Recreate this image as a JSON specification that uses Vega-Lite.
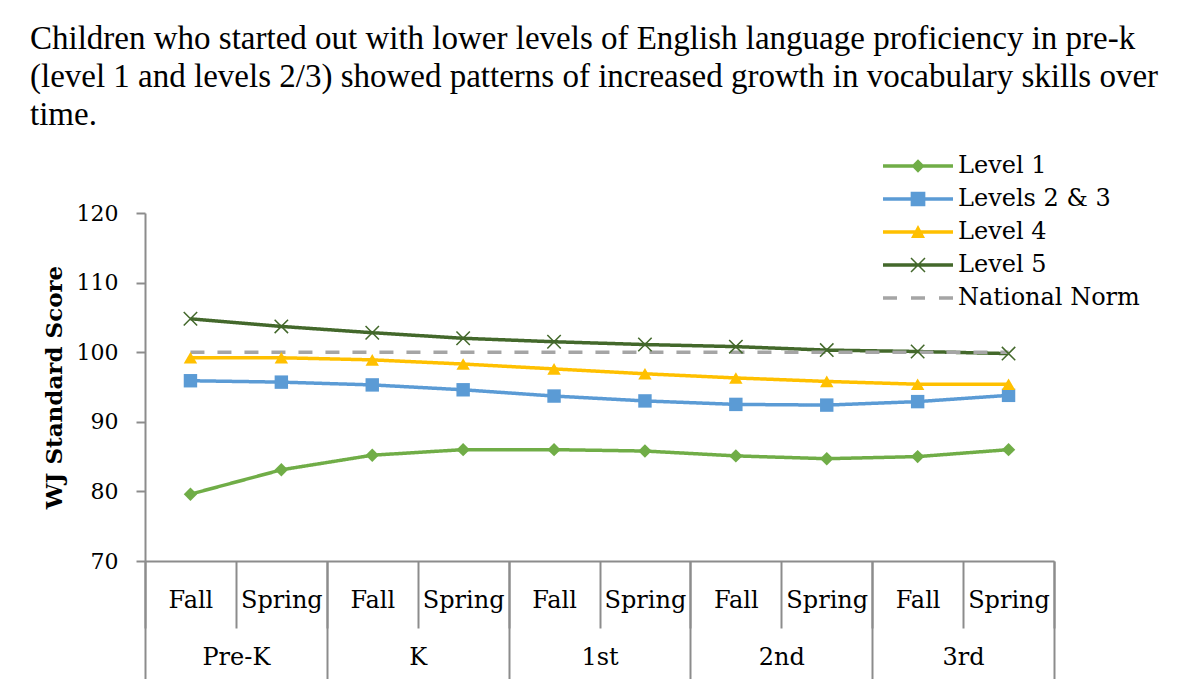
{
  "$schema": "https://vega.github.io/schema/vega-lite/v6.json",
  "width": 909,
  "height": 348,
  "autosize": {"type": "none"},
  "padding": {"left": 145, "top": 213, "right": 144, "bottom": 118},
  "background": "white",
  "title": {
    "text": [
      "Children who started out with lower levels of English language proficiency in pre-k",
      "(level 1 and levels 2/3) showed patterns of increased growth in vocabulary skills over",
      "time."
    ],
    "anchor": "start",
    "frame": "group",
    "dx": -115,
    "font": "Liberation Serif",
    "fontSize": 33,
    "fontWeight": "normal",
    "color": "black",
    "lineHeight": 38,
    "offset": 22
  },
  "config": {
    "view": {"stroke": null},
    "title": {"font": "Liberation Serif", "fontSize": 33, "fontWeight": "normal", "color": "black"},
    "axis": {"labelFont": "DejaVu Serif", "titleFont": "DejaVu Serif", "labelColor": "black", "titleColor": "black"},
    "legend": {"labelFont": "DejaVu Serif"}
  },
  "data": {
    "values": [
      {"series": "Level 1", "grade": "Pre-K", "season": "Fall", "period": "Pre-K|Fall", "score": 79.6},
      {"series": "Level 1", "grade": "Pre-K", "season": "Spring", "period": "Pre-K|Spring", "score": 83.1},
      {"series": "Level 1", "grade": "K", "season": "Fall", "period": "K|Fall", "score": 85.2},
      {"series": "Level 1", "grade": "K", "season": "Spring", "period": "K|Spring", "score": 86.0},
      {"series": "Level 1", "grade": "1st", "season": "Fall", "period": "1st|Fall", "score": 86.0},
      {"series": "Level 1", "grade": "1st", "season": "Spring", "period": "1st|Spring", "score": 85.8},
      {"series": "Level 1", "grade": "2nd", "season": "Fall", "period": "2nd|Fall", "score": 85.1},
      {"series": "Level 1", "grade": "2nd", "season": "Spring", "period": "2nd|Spring", "score": 84.7},
      {"series": "Level 1", "grade": "3rd", "season": "Fall", "period": "3rd|Fall", "score": 85.0},
      {"series": "Level 1", "grade": "3rd", "season": "Spring", "period": "3rd|Spring", "score": 86.0},
      {"series": "Levels 2 & 3", "grade": "Pre-K", "season": "Fall", "period": "Pre-K|Fall", "score": 95.9},
      {"series": "Levels 2 & 3", "grade": "Pre-K", "season": "Spring", "period": "Pre-K|Spring", "score": 95.7},
      {"series": "Levels 2 & 3", "grade": "K", "season": "Fall", "period": "K|Fall", "score": 95.3},
      {"series": "Levels 2 & 3", "grade": "K", "season": "Spring", "period": "K|Spring", "score": 94.6},
      {"series": "Levels 2 & 3", "grade": "1st", "season": "Fall", "period": "1st|Fall", "score": 93.7},
      {"series": "Levels 2 & 3", "grade": "1st", "season": "Spring", "period": "1st|Spring", "score": 93.0},
      {"series": "Levels 2 & 3", "grade": "2nd", "season": "Fall", "period": "2nd|Fall", "score": 92.5},
      {"series": "Levels 2 & 3", "grade": "2nd", "season": "Spring", "period": "2nd|Spring", "score": 92.4},
      {"series": "Levels 2 & 3", "grade": "3rd", "season": "Fall", "period": "3rd|Fall", "score": 92.9},
      {"series": "Levels 2 & 3", "grade": "3rd", "season": "Spring", "period": "3rd|Spring", "score": 93.8},
      {"series": "Level 4", "grade": "Pre-K", "season": "Fall", "period": "Pre-K|Fall", "score": 99.2},
      {"series": "Level 4", "grade": "Pre-K", "season": "Spring", "period": "Pre-K|Spring", "score": 99.2},
      {"series": "Level 4", "grade": "K", "season": "Fall", "period": "K|Fall", "score": 98.9},
      {"series": "Level 4", "grade": "K", "season": "Spring", "period": "K|Spring", "score": 98.3},
      {"series": "Level 4", "grade": "1st", "season": "Fall", "period": "1st|Fall", "score": 97.6},
      {"series": "Level 4", "grade": "1st", "season": "Spring", "period": "1st|Spring", "score": 96.9},
      {"series": "Level 4", "grade": "2nd", "season": "Fall", "period": "2nd|Fall", "score": 96.3},
      {"series": "Level 4", "grade": "2nd", "season": "Spring", "period": "2nd|Spring", "score": 95.8},
      {"series": "Level 4", "grade": "3rd", "season": "Fall", "period": "3rd|Fall", "score": 95.4},
      {"series": "Level 4", "grade": "3rd", "season": "Spring", "period": "3rd|Spring", "score": 95.4},
      {"series": "Level 5", "grade": "Pre-K", "season": "Fall", "period": "Pre-K|Fall", "score": 104.8},
      {"series": "Level 5", "grade": "Pre-K", "season": "Spring", "period": "Pre-K|Spring", "score": 103.7},
      {"series": "Level 5", "grade": "K", "season": "Fall", "period": "K|Fall", "score": 102.8},
      {"series": "Level 5", "grade": "K", "season": "Spring", "period": "K|Spring", "score": 102.0},
      {"series": "Level 5", "grade": "1st", "season": "Fall", "period": "1st|Fall", "score": 101.5},
      {"series": "Level 5", "grade": "1st", "season": "Spring", "period": "1st|Spring", "score": 101.1},
      {"series": "Level 5", "grade": "2nd", "season": "Fall", "period": "2nd|Fall", "score": 100.8},
      {"series": "Level 5", "grade": "2nd", "season": "Spring", "period": "2nd|Spring", "score": 100.3},
      {"series": "Level 5", "grade": "3rd", "season": "Fall", "period": "3rd|Fall", "score": 100.1},
      {"series": "Level 5", "grade": "3rd", "season": "Spring", "period": "3rd|Spring", "score": 99.8},
      {"series": "National Norm", "grade": "Pre-K", "season": "Fall", "period": "Pre-K|Fall", "score": 100},
      {"series": "National Norm", "grade": "Pre-K", "season": "Spring", "period": "Pre-K|Spring", "score": 100},
      {"series": "National Norm", "grade": "K", "season": "Fall", "period": "K|Fall", "score": 100},
      {"series": "National Norm", "grade": "K", "season": "Spring", "period": "K|Spring", "score": 100},
      {"series": "National Norm", "grade": "1st", "season": "Fall", "period": "1st|Fall", "score": 100},
      {"series": "National Norm", "grade": "1st", "season": "Spring", "period": "1st|Spring", "score": 100},
      {"series": "National Norm", "grade": "2nd", "season": "Fall", "period": "2nd|Fall", "score": 100},
      {"series": "National Norm", "grade": "2nd", "season": "Spring", "period": "2nd|Spring", "score": 100},
      {"series": "National Norm", "grade": "3rd", "season": "Fall", "period": "3rd|Fall", "score": 100},
      {"series": "National Norm", "grade": "3rd", "season": "Spring", "period": "3rd|Spring", "score": 100}
    ]
  },
  "layer": [
    {
      "mark": {"type": "line", "strokeWidth": 3.5},
      "encoding": {
        "x": {
          "field": "period", "type": "nominal",
          "scale": {"type": "band", "paddingInner": 0, "paddingOuter": 0,
            "domain": ["Pre-K|Fall", "Pre-K|Spring", "K|Fall", "K|Spring", "1st|Fall", "1st|Spring", "2nd|Fall", "2nd|Spring", "3rd|Fall", "3rd|Spring"]},
          "axis": {
            "orient": "bottom", "title": null, "labelAngle": 0,
            "labelExpr": "split(datum.value, '|')[1]",
            "labelFontSize": 24, "labelBaseline": "middle", "labelPadding": -28,
            "tickBand": "extent", "tickSize": 67, "tickWidth": 2, "tickColor": "#8c8c8c",
            "domainColor": "#8c8c8c", "domainWidth": 2, "grid": false
          }
        },
        "y": {
          "field": "score", "type": "quantitative",
          "scale": {"domain": [70, 120], "nice": false, "zero": false},
          "axis": {
            "values": [70, 80, 90, 100, 110, 120],
            "title": "WJ  Standard  Score",
            "titleFontWeight": "bold", "titleFontSize": 23, "titlePadding": 10,
            "labelFontSize": 22, "labelPadding": 18,
            "tickSize": 9, "tickWidth": 2, "tickColor": "#8c8c8c",
            "domainColor": "#8c8c8c", "domainWidth": 2, "grid": false
          }
        },
        "color": {
          "field": "series", "type": "nominal",
          "scale": {"domain": ["Level 1", "Levels 2 & 3", "Level 4", "Level 5", "National Norm"],
                    "range": ["#70AD47", "#5B9BD5", "#FFC000", "#43682B", "#A5A5A5"]},
          "legend": null
        },
        "strokeDash": {
          "field": "series", "type": "nominal",
          "scale": {"domain": ["Level 1", "Levels 2 & 3", "Level 4", "Level 5", "National Norm"],
                    "range": [[1, 0], [1, 0], [1, 0], [1, 0], [14, 13]]},
          "legend": null
        }
      }
    },
    {
      "transform": [{"filter": "datum.series !== 'National Norm'"}],
      "mark": {"type": "point", "filled": true, "opacity": 1, "size": 180, "strokeWidth": 0},
      "encoding": {
        "x": {
          "field": "period", "type": "nominal",
          "scale": {"type": "band", "paddingInner": 0, "paddingOuter": 0,
            "domain": ["Pre-K|Fall", "Pre-K|Spring", "K|Fall", "K|Spring", "1st|Fall", "1st|Spring", "2nd|Fall", "2nd|Spring", "3rd|Fall", "3rd|Spring"]},
          "axis": null
        },
        "y": {"field": "score", "type": "quantitative"},
        "color": {"field": "series", "type": "nominal", "legend": null},
        "shape": {
          "field": "series", "type": "nominal",
          "scale": {"domain": ["Level 1", "Levels 2 & 3", "Level 4", "Level 5"],
                    "range": ["diamond", "square", "triangle-up", "M-0.92,-1.08L1.08,0.92L0.92,1.08L-1.08,-0.92ZM-0.92,1.08L-1.08,0.92L0.92,-1.08L1.08,-0.92Z"]},
          "legend": null
        }
      }
    },
    {
      "transform": [{"filter": "false"}],
      "mark": {"type": "point", "filled": true, "opacity": 1},
      "encoding": {
        "x": {
          "field": "grade", "type": "nominal",
          "scale": {"type": "band", "paddingInner": 0, "paddingOuter": 0, "domain": ["Pre-K", "K", "1st", "2nd", "3rd"]},
          "axis": {
            "orient": "bottom", "title": null, "labelAngle": 0,
            "labelFontSize": 24, "labelBaseline": "middle", "labelPadding": -22,
            "tickBand": "extent", "tickSize": 118, "tickWidth": 2, "tickColor": "#8c8c8c",
            "domain": false, "grid": false
          }
        },
        "color": {
          "field": "series", "type": "nominal",
          "legend": {
            "orient": "none", "legendX": 738, "legendY": -59, "title": null,
            "symbolSize": 4900, "symbolStrokeWidth": 0,
            "symbolFillColor": {"expr": "scale('color', datum.value)"},
            "labelFontSize": 24, "labelColor": "black", "labelLimit": 400,
            "labelOffset": 5, "rowPadding": 9, "clipHeight": 24, "padding": 0
          }
        },
        "shape": {
          "field": "series", "type": "nominal",
          "scale": {"domain": ["Level 1", "Levels 2 & 3", "Level 4", "Level 5", "National Norm"],
            "range": [
              "M-1,-0.05H1V0.05H-1ZM0,-0.19L0.19,0L0,0.19L-0.19,0Z",
              "M-1,-0.05H1V0.05H-1ZM-0.21,-0.21H0.21V0.21H-0.21Z",
              "M-1,-0.05H1V0.05H-1ZM0,-0.2L0.2,0.17L-0.2,0.17Z",
              "M-1,-0.05H1V0.05H-1ZM-0.185,-0.215L0.215,0.185L0.185,0.215L-0.215,-0.185ZM-0.185,0.215L-0.215,0.185L0.185,-0.215L0.215,-0.185Z",
              "M-1,-0.05H-0.6V0.05H-1ZM-0.2,-0.05H0.2V0.05H-0.2ZM0.6,-0.05H1V0.05H0.6Z"
            ]},
          "legend": {
            "orient": "none", "legendX": 738, "legendY": -59, "title": null,
            "symbolSize": 4900, "symbolStrokeWidth": 0,
            "symbolFillColor": {"expr": "scale('color', datum.value)"},
            "labelFontSize": 24, "labelColor": "black", "labelLimit": 400,
            "labelOffset": 5, "rowPadding": 9, "clipHeight": 24, "padding": 0
          }
        }
      }
    }
  ],
  "resolve": {"scale": {"x": "independent", "shape": "independent"}, "axis": {"x": "independent"}}
}
